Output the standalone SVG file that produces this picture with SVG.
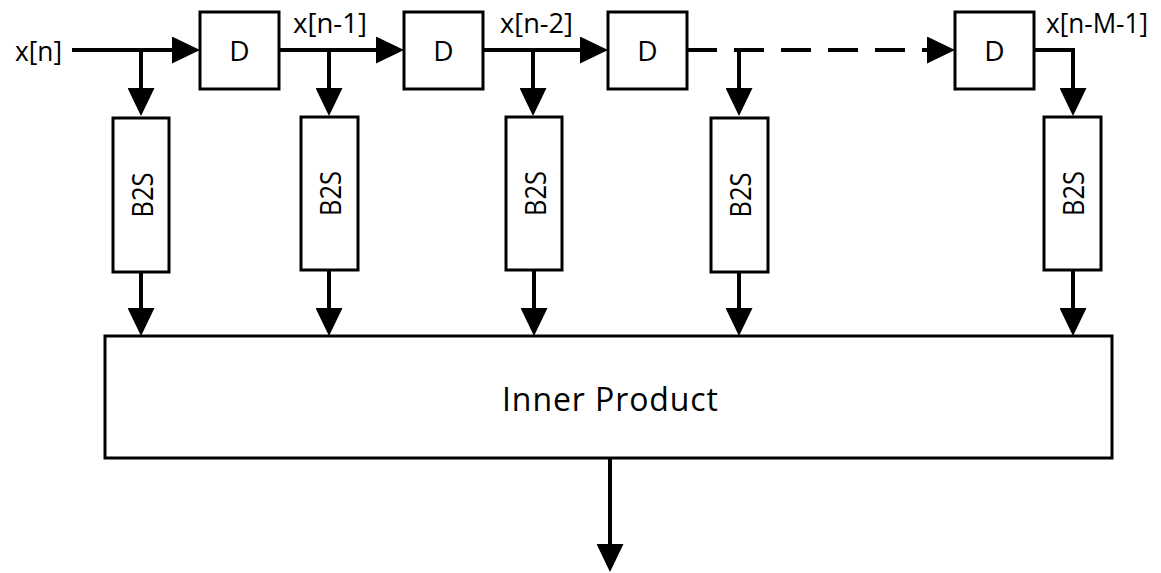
<svg xmlns="http://www.w3.org/2000/svg" width="1161" height="573" viewBox="0 0 1161 573">
<style>
.box{fill:#fff;stroke:#000;stroke-width:3}
.wire{fill:none;stroke:#000;stroke-width:4}
.dash{stroke-dasharray:30 17}
.lbl{font-family:"Open Sans","Liberation Sans",sans-serif;font-size:27px;fill:#000}
.dl{font-family:"Open Sans","Liberation Sans",sans-serif;font-size:28px;fill:#000;text-anchor:middle}
.big{font-family:"Open Sans","Liberation Sans",sans-serif;font-size:32px;fill:#000;text-anchor:middle}
.b2s{font-family:"Open Sans","Liberation Sans",sans-serif;font-size:30px;fill:#000;text-anchor:middle;dominant-baseline:central}
</style>
<defs>
<marker id="ah" markerUnits="userSpaceOnUse" markerWidth="28" markerHeight="27" refX="8" refY="13.5" orient="auto" viewBox="0 0 28 27">
<path d="M0,0 L28,13.5 L0,27 Z" fill="#000"/>
</marker>
</defs>
<rect width="1161" height="573" fill="#fff"/>
<g id="connectors">
<line class="wire" x1="72" y1="50" x2="180" y2="50" marker-end="url(#ah)"/>
<line class="wire" x1="141" y1="48" x2="141" y2="96" marker-end="url(#ah)"/>
<line class="wire" x1="279" y1="50" x2="384" y2="50" marker-end="url(#ah)"/>
<line class="wire" x1="329" y1="48" x2="329" y2="96" marker-end="url(#ah)"/>
<line class="wire" x1="483" y1="50" x2="588" y2="50" marker-end="url(#ah)"/>
<line class="wire" x1="533" y1="48" x2="533" y2="96" marker-end="url(#ah)"/>
<line class="wire dash" x1="687" y1="50" x2="935" y2="50" marker-end="url(#ah)"/>
<line class="wire" x1="739" y1="50" x2="739" y2="96" marker-end="url(#ah)"/>
<polyline class="wire" points="1034,50 1073,50 1073,96" marker-end="url(#ah)"/>
<line class="wire" x1="141" y1="272" x2="141" y2="316" marker-end="url(#ah)"/>
<line class="wire" x1="329" y1="270" x2="329" y2="316" marker-end="url(#ah)"/>
<line class="wire" x1="534" y1="270" x2="534" y2="316" marker-end="url(#ah)"/>
<line class="wire" x1="739" y1="272" x2="739" y2="316" marker-end="url(#ah)"/>
<line class="wire" x1="1073" y1="270" x2="1073" y2="316" marker-end="url(#ah)"/>
<line class="wire" x1="610" y1="458" x2="610" y2="552" marker-end="url(#ah)"/>
</g>
<g id="labels">
<text class="lbl" x="15" y="61" textLength="47" lengthAdjust="spacingAndGlyphs">x[n]</text>
<text class="lbl" x="293" y="33" textLength="74" lengthAdjust="spacingAndGlyphs">x[n-1]</text>
<text class="lbl" x="500" y="33" textLength="73" lengthAdjust="spacingAndGlyphs">x[n-2]</text>
<text class="lbl" x="1046" y="33" textLength="102" lengthAdjust="spacingAndGlyphs">x[n-M-1]</text>
</g>
<g id="d1"><rect class="box" x="200" y="12" width="79" height="77"/><text class="dl" x="239.5" y="61">D</text></g>
<g id="d2"><rect class="box" x="404" y="12" width="79" height="77"/><text class="dl" x="443.5" y="61">D</text></g>
<g id="d3"><rect class="box" x="608" y="12" width="79" height="77"/><text class="dl" x="647.5" y="61">D</text></g>
<g id="d4"><rect class="box" x="955" y="12" width="79" height="77"/><text class="dl" x="994.5" y="61">D</text></g>
<g id="b2s1"><rect class="box" x="113" y="118" width="56" height="154"/><text class="b2s" transform="translate(141,195) rotate(-90)" textLength="45" lengthAdjust="spacingAndGlyphs">B2S</text></g>
<g id="b2s2"><rect class="box" x="301" y="117" width="57" height="153"/><text class="b2s" transform="translate(329.5,193.5) rotate(-90)" textLength="45" lengthAdjust="spacingAndGlyphs">B2S</text></g>
<g id="b2s3"><rect class="box" x="506" y="117" width="56" height="153"/><text class="b2s" transform="translate(534,193.5) rotate(-90)" textLength="45" lengthAdjust="spacingAndGlyphs">B2S</text></g>
<g id="b2s4"><rect class="box" x="711" y="118" width="57" height="154"/><text class="b2s" transform="translate(739.5,195) rotate(-90)" textLength="45" lengthAdjust="spacingAndGlyphs">B2S</text></g>
<g id="b2s5"><rect class="box" x="1044" y="117" width="57" height="153"/><text class="b2s" transform="translate(1072.5,193.5) rotate(-90)" textLength="45" lengthAdjust="spacingAndGlyphs">B2S</text></g>
<g id="inner"><rect class="box" x="105" y="336" width="1007" height="122"/><text class="big" x="610" y="411" textLength="216">Inner Product</text></g>
</svg>
